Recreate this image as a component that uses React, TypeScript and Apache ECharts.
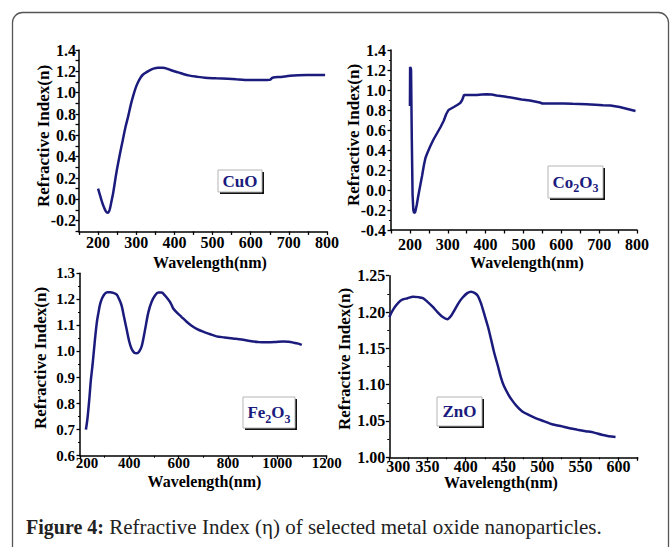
import React, { useEffect, useRef } from "react";
import * as echarts from "echarts";

// ---------- data ----------
const cuoX = [200, 205, 210, 215, 220, 225, 230, 235, 240, 248, 257, 265, 272, 279, 286, 292, 299, 305, 312, 318, 326, 335, 345, 357, 370, 383, 396, 410, 423, 440, 458, 480, 510, 540, 562, 585, 606, 630, 650, 657, 680, 703, 725, 747, 770, 795];
const cuoY = [0.10, 0.04, -0.02, -0.07, -0.11, -0.125, -0.10, -0.02, 0.07, 0.25, 0.42, 0.56, 0.68, 0.78, 0.89, 0.97, 1.05, 1.10, 1.145, 1.17, 1.19, 1.21, 1.225, 1.234, 1.234, 1.222, 1.205, 1.19, 1.175, 1.16, 1.15, 1.14, 1.135, 1.13, 1.125, 1.12, 1.118, 1.118, 1.12, 1.14, 1.148, 1.158, 1.163, 1.165, 1.165, 1.166];

const coX = [200, 200.5, 202, 203, 205, 207, 209, 211, 214, 218, 222, 227, 232, 237, 241, 246, 254, 263, 272, 281, 289, 296, 302, 309, 316, 325, 333, 338, 343, 360, 377, 390, 403, 416, 429, 450, 474, 495, 517, 530, 543, 550, 580, 605, 630, 666, 690, 710, 730, 754, 775, 796];
const coY = [0.84, 1.23, 1.22, 1.2, 0.5, -0.05, -0.2, -0.23, -0.22, -0.15, -0.06, 0.04, 0.14, 0.25, 0.32, 0.37, 0.44, 0.51, 0.57, 0.63, 0.69, 0.76, 0.80, 0.815, 0.83, 0.85, 0.87, 0.90, 0.95, 0.95, 0.95, 0.955, 0.958, 0.955, 0.945, 0.935, 0.92, 0.905, 0.895, 0.885, 0.875, 0.865, 0.865, 0.866, 0.862, 0.857, 0.853, 0.848, 0.845, 0.83, 0.81, 0.79];

const feX = [224, 230, 238, 244, 251, 260, 268, 275, 281, 290, 301, 312, 322, 335, 349, 359, 369, 379, 389, 399, 409, 420, 430, 440, 450, 463, 477, 490, 504, 518, 531, 544, 557, 568, 578, 594, 611, 631, 651, 675, 699, 725, 753, 786, 820, 855, 889, 923, 957, 990, 1024, 1045, 1065, 1085, 1099];
const feY = [0.70, 0.74, 0.82, 0.89, 0.95, 1.04, 1.11, 1.15, 1.18, 1.205, 1.222, 1.227, 1.227, 1.225, 1.218, 1.20, 1.175, 1.13, 1.085, 1.04, 1.01, 0.995, 0.993, 1.00, 1.02, 1.08, 1.15, 1.19, 1.215, 1.226, 1.226, 1.215, 1.20, 1.185, 1.165, 1.148, 1.133, 1.115, 1.10, 1.086, 1.076, 1.067, 1.058, 1.054, 1.05, 1.046, 1.04, 1.036, 1.035, 1.036, 1.038, 1.037, 1.034, 1.03, 1.025];

const znX = [300, 306, 312, 317, 324, 331, 338, 344, 350, 357, 363, 370, 376, 381, 385, 391, 396, 402, 407, 412, 416, 420, 424, 429, 433, 437, 442, 446, 450, 456, 461, 467, 474, 483, 492, 503, 513, 524, 536, 546, 557, 568, 578, 587, 596];
const znY = [1.193, 1.205, 1.213, 1.217, 1.219, 1.221, 1.2205, 1.219, 1.214, 1.207, 1.200, 1.193, 1.190, 1.195, 1.202, 1.213, 1.220, 1.226, 1.228, 1.226, 1.222, 1.212, 1.198, 1.180, 1.163, 1.145, 1.126, 1.11, 1.098, 1.086, 1.078, 1.070, 1.063, 1.058, 1.0537, 1.0495, 1.0455, 1.043, 1.040, 1.038, 1.036, 1.034, 1.031, 1.029, 1.028];

const xTitle = "Wavelength(nm)";
const yTitle = "Refractive Index(n)";
const captionBold = "Figure 4:";
const captionText = " Refractive Index (\u03B7) of selected metal oxide nanoparticles.";

// ---------- styles ----------
const FONT = "Liberation Serif, serif";
const NAVY = "#1b1b7d";

const pairs = (xs: number[], ys: number[]) => xs.map((x, i) => [x, ys[i]]);

function axis(
  gridIndex: number,
  min: number,
  max: number,
  interval: number,
  margin: number,
  formatter: (v: number) => string,
  minor: boolean,
  fontSize = 16,
  minShift = 0
) {
  return {
    type: "value",
    gridIndex,
    min,
    max,
    interval,
    axisLine: { show: true, onZero: false, lineStyle: { color: "#000", width: 1.5 } },
    axisTick: { show: true, length: 3.5, lineStyle: { color: "#000", width: 1.3 } },
    minorTick: { show: minor, splitNumber: 2, length: 2, lineStyle: { color: "#000", width: 1 } },
    splitLine: { show: false },
    minorSplitLine: { show: false },
    axisLabel: {
      margin,
      color: "#000",
      fontFamily: FONT,
      fontWeight: "bold",
      fontSize,
      formatter: (v: number) => {
        const s = formatter(v);
        return minShift && Math.abs(v - min) < 1e-9 ? `{m|${s}}` : s;
      },
      rich: {
        m: {
          fontFamily: FONT,
          fontWeight: "bold",
          fontSize,
          color: "#000",
          padding: [0, 0, 0, minShift],
        },
      },
    },
  };
}

function legendBox(x: number, y: number, w: number, h: number, text: string, rich?: any) {
  return [
    { type: "rect", shape: { x: x + 2, y: y + 2, width: w, height: h }, style: { fill: "#111" } },
    { type: "rect", shape: { x, y, width: w, height: h }, style: { fill: "#fff", stroke: "#b5b5b5", lineWidth: 1 } },
    {
      type: "text",
      x: x + w / 2,
      y: y + h / 2,
      style: {
        text,
        rich,
        fontFamily: FONT,
        fontWeight: "bold",
        fontSize: 17,
        fill: NAVY,
        align: "center",
        verticalAlign: "middle",
      },
    },
  ];
}

function title(x: number, y: number, text: string, size: number, rotate: boolean) {
  return {
    type: "text",
    x,
    y,
    rotation: rotate ? Math.PI / 2 : 0,
    style: {
      text,
      fontFamily: FONT,
      fontWeight: "bold",
      fontSize: size,
      fill: "#000",
      align: "center",
      verticalAlign: "middle",
    },
  };
}

export default function App() {
  const ref = useRef<HTMLDivElement>(null);
  useEffect(() => {
    const chart = echarts.init(ref.current!, null, { renderer: "svg" });
    const f1 = (v: number) => {
      const n = Math.round(v * 10);
      return n % 2 === 0 ? (n / 10).toFixed(1) : "";
    };
    const f100 = (v: number) => (Math.round(v) % 100 === 0 ? String(Math.round(v)) : "");
    const f50 = (v: number) => (Math.round(v) % 50 === 0 ? String(Math.round(v)) : "");
    const sub = {
      n: { fontFamily: FONT, fontWeight: "bold", fontSize: 17, fill: NAVY, lineHeight: 24 },
      s: { fontFamily: FONT, fontWeight: "bold", fontSize: 12, fill: NAVY, verticalAlign: "bottom" },
    };
    const line = (xi: number, xs: number[], ys: number[], smooth: any) => ({
      type: "line",
      xAxisIndex: xi,
      yAxisIndex: xi,
      data: pairs(xs, ys),
      showSymbol: false,
      symbol: "none",
      smooth,
      lineStyle: { color: NAVY, width: 2.5 },
    });
    chart.setOption({
      animation: false,
      backgroundColor: "#fff",
      grid: [
        { left: 79, top: 50, width: 248, height: 181.4 },
        { left: 391, top: 50, width: 246, height: 180 },
        { left: 80, top: 273.3, width: 246.7, height: 182.4 },
        { left: 389.3, top: 275.7, width: 248.4, height: 181.6 },
      ],
      xAxis: [
        axis(0, 150, 800, 50, 3, f100, false),
        axis(1, 150, 800, 50, 6, f100, false),
        axis(2, 200, 1200, 200, 0, (v) => String(Math.round(v)), true, 15, 14),
        axis(3, 300, 625, 50, 1, f50, true, 16, 18),
      ],
      yAxis: [
        axis(0, -0.3, 1.4, 0.1, 3, f1, false),
        axis(1, -0.4, 1.4, 0.2, 5, (v) => v.toFixed(1), true),
        axis(2, 0.6, 1.3, 0.1, 5, (v) => v.toFixed(1), true, 15),
        axis(3, 1.0, 1.25, 0.05, 4, (v) => v.toFixed(2), true),
      ],
      series: [
        line(0, cuoX, cuoY, 0.3),
        line(1, coX, coY, false),
        line(2, feX, feY, 0.3),
        line(3, znX, znY, 0.3),
      ],
      graphic: [
        {
          type: "rect",
          shape: { x: 12.5, y: 12.5, width: 656, height: 600, r: 10 },
          style: { fill: "none", stroke: "#555", lineWidth: 1.3 },
        },
        ...legendBox(218, 170, 44, 22, "CuO"),
        ...legendBox(548, 166, 55, 32, "{n|Co}{s|2}{n|O}{s|3}", sub),
        ...legendBox(243, 397, 52, 31, "{n|Fe}{s|2}{n|O}{s|3}", sub),
        ...legendBox(437, 397, 45, 29, "ZnO"),
        title(43, 136, yTitle, 17, true),
        title(353, 135, yTitle, 17, true),
        title(40, 358, yTitle, 17, true),
        title(344, 359, yTitle, 17, true),
        title(210, 262, xTitle, 16, false),
        title(527, 262, xTitle, 16, false),
        title(204.5, 481.5, xTitle, 16, false),
        title(501, 482.5, xTitle, 16, false),
        {
          type: "text",
          x: 26,
          y: 527,
          style: {
            text: `{b|${captionBold}}{r|${captionText}}`,
            verticalAlign: "middle",
            align: "left",
            rich: {
              b: { fontFamily: FONT, fontWeight: "bold", fontSize: 20, fill: "#222" },
              r: { fontFamily: FONT, fontSize: 21, fill: "#222" },
            },
          },
        },
      ],
    });
    return () => chart.dispose();
  }, []);
  return (
    <div
      ref={ref}
      style={{ position: "fixed", left: 0, top: 0, width: 672, height: 547, background: "#fff" }}
    />
  );
}
